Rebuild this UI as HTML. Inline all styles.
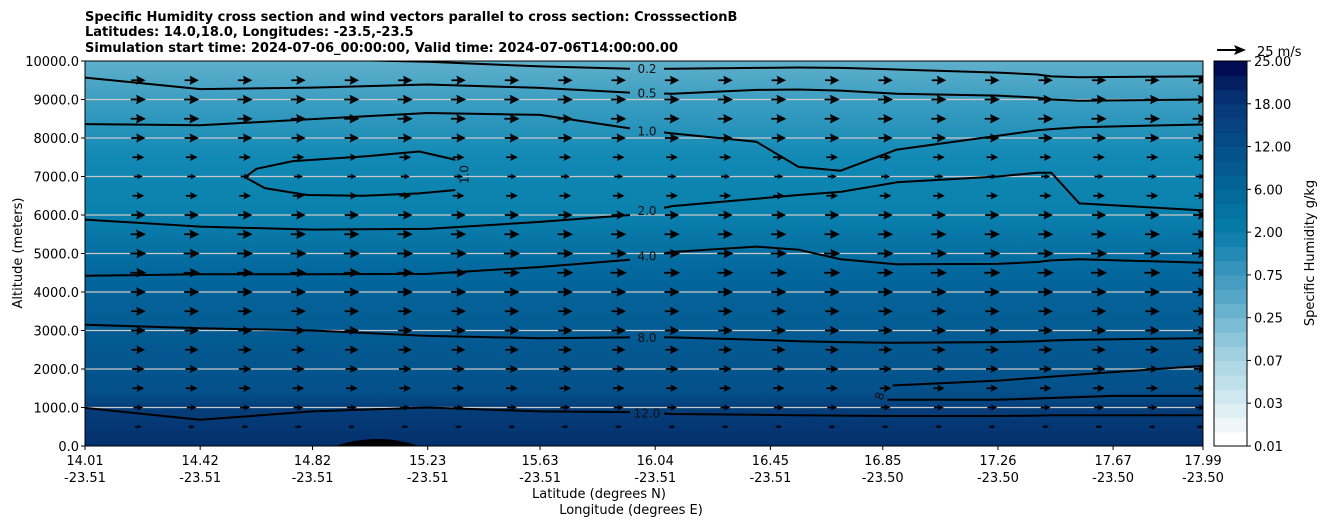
<!DOCTYPE html>
<html><head><meta charset="utf-8"><style>
body{margin:0;background:#fff;width:1326px;height:526px;overflow:hidden;font-family:"Liberation Sans","DejaVu Sans",sans-serif}
svg text{font-family:"DejaVu Sans","Liberation Sans",sans-serif}
</style></head><body>
<svg id="chart" width="1326" height="526">
<defs>
<linearGradient id="bg" x1="0" y1="0" x2="0" y2="1">
<stop offset="0" stop-color="#5fb0cb"/><stop offset="0.1" stop-color="#3d9ec2"/>
<stop offset="0.25" stop-color="#1289b4"/><stop offset="0.4" stop-color="#0a80ad"/>
<stop offset="0.55" stop-color="#03679d"/><stop offset="0.72" stop-color="#045a92"/>
<stop offset="0.86" stop-color="#04508a"/><stop offset="0.9" stop-color="#053e7a"/>
<stop offset="1" stop-color="#03306d"/></linearGradient>
<clipPath id="plotclip"><rect x="85" y="61" width="1118" height="385"/></clipPath>
<mask id="labelmask" maskUnits="userSpaceOnUse" x="0" y="0" width="1326" height="526"><rect x="85" y="61" width="1118" height="385" fill="#fff"/><g id="maskholes"></g></mask>
</defs>
<g id="titles" font-weight="bold" font-size="13">
<text x="85" y="21">Specific Humidity cross section and wind vectors parallel to cross section: CrosssectionB</text>
<text x="85" y="36">Latitudes: 14.0,18.0, Longitudes: -23.5,-23.5</text>
<text x="85" y="52">Simulation start time: 2024-07-06_00:00:00, Valid time: 2024-07-06T14:00:00.00</text>
</g>
<rect x="85" y="61" width="1118" height="385" fill="url(#bg)"/>
<g id="grid"></g><g id="arrows" clip-path="url(#plotclip)"></g><g id="contours" mask="url(#labelmask)"></g><g id="clabels"></g><g id="axes"></g><g id="cbar"></g>
</svg>
<script>
const latTicks=[14.01,14.42,14.82,15.23,15.63,16.04,16.45,16.85,17.26,17.67,17.99];
const lonTicks=["-23.51","-23.51","-23.51","-23.51","-23.51","-23.51","-23.51","-23.50","-23.50","-23.50","-23.50"];
const altTicks=[0,1000,2000,3000,4000,5000,6000,7000,8000,9000,10000];
const cbarTicks=["0.01","0.03","0.07","0.25","0.75","2.00","6.00","12.00","18.00","25.00"];
const cbarColors=["#ffffff","#eef6f9","#e0eff4","#cfe7ef","#bfdfea","#b0d8e5","#a0d0e0","#8dc6da","#7bbcd4","#68b2cd","#56a7c7","#469dc1","#3593bc","#2389b5","#1180ae","#067aa7","#0472a2","#036a9c","#036296","#045a90","#04528b","#054a85","#064380","#063a79","#052f70","#041e62","#020c52"];
const contourLevels=["0.2","0.5","1.0","2.0","4.0","8.0","12.0"];
const cLat=[14.01,14.42,14.82,15.23,15.63,15.95,16.1,16.4,16.55,16.7,16.9,17.26,17.4,17.45,17.55,17.99];
const c02=[10150,10100,10050,9980,9860,9800,9800,9820,9830,9820,9780,9700,9650,9600,9580,9600];
const c05=[9570,9270,9310,9390,9300,9180,9150,9250,9260,9230,9150,9100,9050,9000,8970,9000];
const c10=[8360,8330,8490,8650,8600,8250,8120,7900,7250,7150,7700,8060,8200,8230,8280,8350];
const c20=[5880,5700,5620,5640,5820,6000,6230,6420,6520,6600,6850,7000,7100,7100,6300,6120];
const c40=[4420,4460,4460,4470,4650,4840,5040,5180,5100,4850,4720,4730,4780,4820,4850,4760];
const c80=[3150,3060,3000,2860,2800,2820,2820,2760,2720,2700,2680,2700,2720,2740,2760,2800];
const c120=[990,680,900,1000,900,880,830,810,800,790,780,780,790,800,800,800];
const loopLat=[15.33,15.2,15.0,14.75,14.62,14.58,14.65,14.8,15.0,15.2,15.33];
const loopAlt=[7430,7650,7520,7400,7200,6980,6700,6520,6500,6560,6650];
const lowLat=[16.85,17.26,17.67,17.99];
const low1=[1560,1700,1920,2080];
const low2=[1200,1200,1300,1300];
const arrowLat=[14.2,14.39,14.58,14.77,14.96,15.15,15.34,15.53,15.72,15.91,16.1,16.29,16.48,16.67,16.86,17.05,17.24,17.43,17.62,17.81,17.98];
const arrowAlt=[9500,9000,8500,8000,7500,7000,6500,6000,5500,5000,4500,4000,3500,3000,2500,2000,1500,1000,500];
const arrowSpeed=[16,17,17,16,13,10,13,16,17,18,18,17,16,16,15,14,13,11,7];
const NS="http://www.w3.org/2000/svg";
const X0=85,X1=1203,Y0=446,Y1=61;
const xs=v=>X0+(v-14.01)/(17.99-14.01)*(X1-X0);
const ys=v=>Y0-v/10000*(Y0-Y1);
function mk(t,a,p){const e=document.createElementNS(NS,t);for(const k in a)e.setAttribute(k,a[k]);(p||document.getElementById('chart')).appendChild(e);return e;}
const grid=document.getElementById('grid');
altTicks.slice(1,10).forEach(a=>{const l=mk('line',{x1:X0,x2:X1,y1:ys(a),y2:ys(a),stroke:'#c8c8c8','stroke-width':1.2},grid);

});
const ter=mk('path',{d:`M${xs(14.9)},446 Q${xs(15.05)},432 ${xs(15.2)},446 Z`,fill:'#000'});


const ag=document.getElementById('arrows');
arrowAlt.forEach((a,i)=>{arrowLat.forEach(l=>{const L=arrowSpeed[i]*0.9;const x=xs(l),y=ys(a);const h=Math.min(10,L*0.65),w=Math.min(4.8,L*0.32);
const g=mk('path',{d:`M${x-L/2},${y-0.9} L${x+L/2-h+1},${y-0.9} L${x+L/2-h},${y-w} L${x+L/2},${y} L${x+L/2-h},${y+w} L${x+L/2-h+1},${y+0.9} L${x-L/2},${y+0.9}Z`,fill:'#000'},ag);

});});
const cg=document.getElementById('contours'),mh=document.getElementById('maskholes'),lg=document.getElementById('clabels');
function line(lat,alt,name){const d=lat.map((l,i)=>(i?'L':'M')+xs(l).toFixed(1)+','+ys(alt[i]).toFixed(1)).join(' ');
const p=mk('path',{d:d,fill:'none',stroke:'#000','stroke-width':2,'stroke-linejoin':'round'},cg);

return p;}
function label(txt,x,y,rot){mk('rect',{x:x-17,y:y-9,width:34,height:18,fill:'#000',transform:rot?`rotate(${rot} ${x} ${y})`:''},mh);
const t=mk('text',{x:x,y:y+4.5,'font-size':12,'text-anchor':'middle',fill:'#111',transform:rot?`rotate(${rot} ${x} ${y})`:''},lg);t.textContent=txt;

}
[c02,c05,c10,c20,c40,c80,c120].forEach((s,i)=>{line(cLat,s,'contour-'+contourLevels[i]);
label(contourLevels[i],647,(ys(s[5])+ys(s[6]))/2);});
line(loopLat,loopAlt,'contour-1.0-loop');label('1.0',xs(15.36),ys(7050),-90);
line(lowLat,low1,'contour-8.0-low');line(lowLat,low2,'contour-12.0-low');
label('8.',xs(16.84),ys(1350),-70);
const ax=document.getElementById('axes');
const fr=mk('rect',{x:X0,y:Y1,width:X1-X0,height:Y0-Y1,fill:'none',stroke:'#000','stroke-width':1},ax);


altTicks.forEach(a=>{mk('line',{x1:X0-4,x2:X0,y1:ys(a),y2:ys(a),stroke:'#000'},ax);
const t=mk('text',{x:X0-6,y:ys(a)+5,'font-size':13,'text-anchor':'end'},ax);t.textContent=a.toFixed(1);

});
latTicks.forEach((l,i)=>{const x=xs(l);mk('line',{x1:x,x2:x,y1:Y0,y2:Y0+4,stroke:'#000'},ax);
const t=mk('text',{x:x,y:Y0+19,'font-size':13,'text-anchor':'middle'},ax);t.textContent=l.toFixed(2);


const t2=mk('text',{x:x,y:Y0+36,'font-size':13,'text-anchor':'middle'},ax);t2.textContent=lonTicks[i];

});
let t=mk('text',{x:599,y:498,'font-size':13,'text-anchor':'middle'},ax);t.textContent='Latitude (degrees N)';


t=mk('text',{x:631,y:514,'font-size':13,'text-anchor':'middle'},ax);t.textContent='Longitude (degrees E)';


t=mk('text',{x:22,y:253,'font-size':13,'text-anchor':'middle',transform:'rotate(-90 22 253)'},ax);t.textContent='Altitude (meters)';


const qk=mk('path',{d:'M1217,49 L1236,49 L1234,45 L1246,50 L1234,55 L1236,51 L1217,51Z',fill:'#000'},ax);


t=mk('text',{x:1257,y:56,'font-size':13},ax);t.textContent='25 m/s';


const cb=document.getElementById('cbar');const CX=1214,CW=33,n=cbarColors.length,bh=(Y0-Y1)/n;
cbarColors.forEach((c,i)=>{const r=mk('rect',{x:CX,y:(Y0-(i+1)*bh).toFixed(2),width:CW,height:(bh+0.6).toFixed(2),fill:c},cb);

});
const cf=mk('rect',{x:CX,y:Y1,width:CW,height:Y0-Y1,fill:'none',stroke:'#000'},cb);


cbarTicks.forEach((s,i)=>{const y=Y0-i*(Y0-Y1)/(cbarTicks.length-1);mk('line',{x1:CX+CW,x2:CX+CW+4,y1:y,y2:y,stroke:'#000'},cb);
const tt=mk('text',{x:CX+CW+7,y:y+5,'font-size':13},cb);tt.textContent=s;

});
t=mk('text',{x:1314,y:253,'font-size':13,'text-anchor':'middle',transform:'rotate(-90 1314 253)'},cb);t.textContent='Specific Humidity g/kg';


</script>
</body></html>
